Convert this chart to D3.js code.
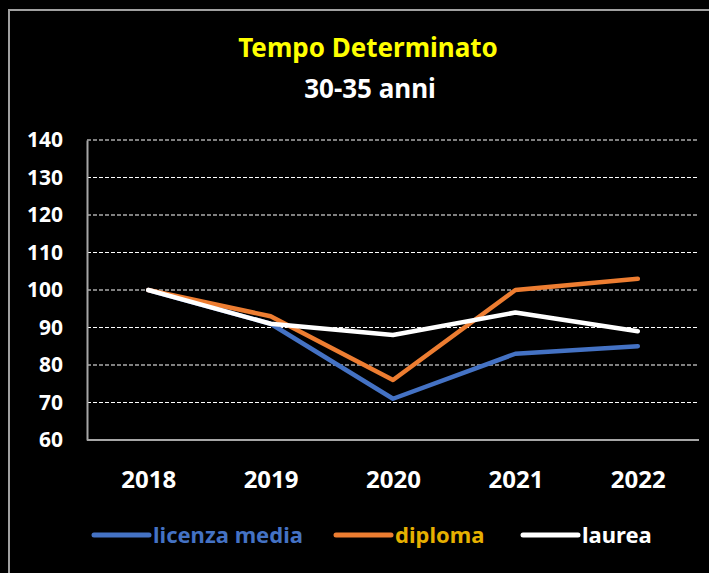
<!DOCTYPE html>
<html lang="it">
<head>
<meta charset="UTF-8">
<title>Tempo Determinato</title>
<style>
body{margin:0;background:#000;}
.chart text{font-family:"Noto Sans",sans-serif;font-weight:bold;}
</style>
</head>
<body>
<div class="chart"></div>
<script src="https://d3js.org/d3.v7.min.js"></script>
<script>
var years = ['2018','2019','2020','2021','2022'];
var licenzaMedia = [100, 91, 71, 83, 85];
var diploma = [100, 93, 76, 100, 103];
var laurea = [100, 91, 88, 94, 89];
var yTicks = [60,70,80,90,100,110,120,130,140];

var series = [
	{name:'licenza media', values:licenzaMedia, color:'#4472c4', text:'#4472c4'},
	{name:'diploma', values:diploma, color:'#ed7d31', text:'#e6b000'},
	{name:'laurea', values:laurea, color:'#ffffff', text:'#ffffff'}
];

var W = 709, H = 573;
var margin = {top:140, right:10, bottom:133, left:87};
var width = W - margin.left - margin.right;
var height = H - margin.top - margin.bottom;

var root = d3.select('.chart').append('svg')
	.attr('width',W).attr('height',H)
	.style('display','block').style('background','#000');

// outer frame
root.append('rect')
	.attr('x',9).attr('y',10).attr('width',W+20).attr('height',H+20)
	.attr('fill','none').attr('stroke','#a0a0a0').attr('stroke-width',2);

root.append('text').attr('x',368).attr('y',57).attr('text-anchor','middle')
	.style('font-size','26px').attr('fill','#ffff00').text('Tempo Determinato');
root.append('text').attr('x',370).attr('y',98).attr('text-anchor','middle')
	.style('font-size','26px').attr('fill','#ffffff').text('30-35 anni');

var svg = root.append('g').attr('transform',`translate(${margin.left},${margin.top})`);

var x = d3.scalePoint().domain(years).range([0,width]).padding(0.5);
var y = d3.scaleLinear().domain([60,140]).range([height,0]);

// gridlines
svg.append('g').selectAll('line')
	.data(yTicks.filter(function(d){return d>60;}))
	.enter().append('line')
	.attr('x1',0).attr('x2',width)
	.attr('y1',function(d){return y(d);}).attr('y2',function(d){return y(d);})
	.attr('stroke','#ffffff').attr('stroke-width',1.2).attr('stroke-dasharray','4,2');

var yAxis = d3.axisLeft(y).tickValues(yTicks).tickSize(0).tickPadding(24);
var gy = svg.append('g').call(yAxis);
gy.select('.domain').attr('stroke','#a6a6a6').attr('stroke-width',2);
gy.selectAll('text').attr('fill','#ffffff').style('font-size','21px');

var xAxis = d3.axisBottom(x).tickSize(0);
var gx = svg.append('g').attr('transform',`translate(0,${height})`).call(xAxis);
gx.select('.domain').attr('d',`M0,0H${width}`).attr('stroke','#a6a6a6').attr('stroke-width',2);
gx.selectAll('text').attr('fill','#ffffff').style('font-size','24px').attr('dy','0').attr('y',48);

var line = d3.line()
	.x(function(d,i){return x(years[i]);})
	.y(function(d){return y(d);});

svg.selectAll('.series').data(series).enter().append('path')
	.attr('class','series')
	.attr('d',function(d){return line(d.values);})
	.attr('fill','none')
	.attr('stroke',function(d){return d.color;})
	.attr('stroke-width',4.5)
	.attr('stroke-linejoin','round')
	.attr('stroke-linecap','round');

// legend
var legendPos = [94, 336, 523];
var lg = root.append('g').selectAll('g').data(series).enter().append('g')
	.attr('transform',function(d,i){return `translate(${legendPos[i]},535)`;});
lg.append('line').attr('x1',0).attr('x2',55).attr('y1',0).attr('y2',0)
	.attr('stroke',function(d){return d.color;}).attr('stroke-width',5)
	.attr('stroke-linecap','round');
lg.append('text').attr('x',59).attr('y',8)
	.style('font-size','22px')
	.attr('fill',function(d){return d.text;})
	.text(function(d){return d.name;});
</script>
</body>
</html>
